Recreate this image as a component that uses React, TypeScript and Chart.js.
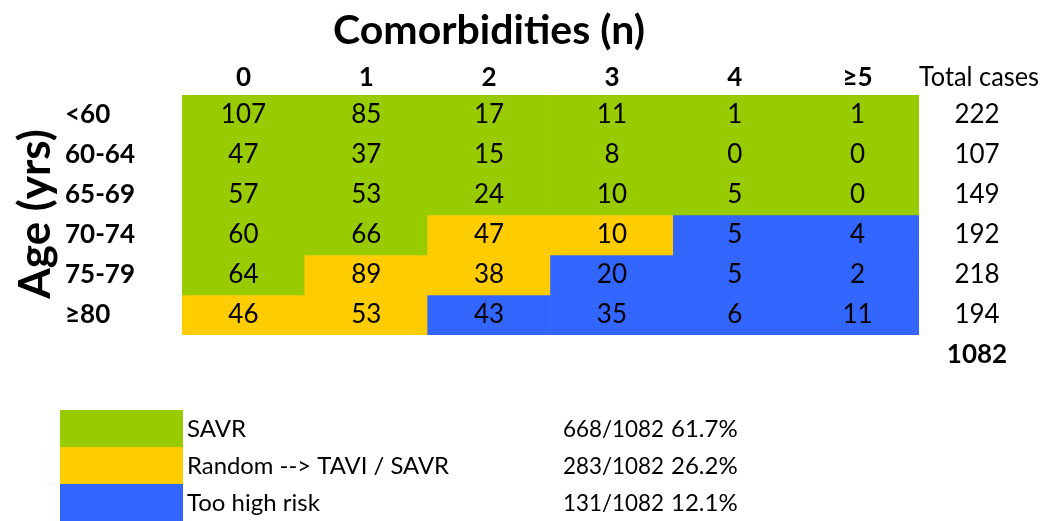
import React, { useEffect, useRef } from "react";
import { Chart, registerables } from "chart.js";

Chart.register(...registerables);

const columns = ["0", "1", "2", "3", "4", "≥5"];
const ageGroups = ["<60", "60-64", "65-69", "70-74", "75-79", "≥80"];
const counts = [
  [107, 85, 17, 11, 1, 1],
  [47, 37, 15, 8, 0, 0],
  [57, 53, 24, 10, 5, 0],
  [60, 66, 47, 10, 5, 4],
  [64, 89, 38, 20, 5, 2],
  [46, 53, 43, 35, 6, 11],
];
const groupIndex = [
  [0, 0, 0, 0, 0, 0],
  [0, 0, 0, 0, 0, 0],
  [0, 0, 0, 0, 0, 0],
  [0, 0, 1, 1, 2, 2],
  [0, 1, 1, 2, 2, 2],
  [1, 1, 2, 2, 2, 2],
];
const rowTotals = [222, 107, 149, 192, 218, 194];
const grandTotal = 1082;
const groupNames = ["SAVR", "Random --> TAVI / SAVR", "Too high risk"];
const groupCounts = [668, 283, 131];
const groupPercents = ["61.7%", "26.2%", "12.1%"];
const groupColors = ["#99CC00", "#FFCC00", "#3366FF"];

const FONT = "Lato, 'Open Sans', sans-serif";

const textPlugin = {
  id: "tableText",
  afterDraw(chart: any) {
    const ctx = chart.ctx as CanvasRenderingContext2D;
    const xs = chart.scales.x;
    const ys = chart.scales.y;
    ctx.save();
    ctx.fillStyle = "#000";
    ctx.textBaseline = "middle";

    // Title
    ctx.textAlign = "center";
    ctx.font = `bold 41px ${FONT}`;
    ctx.fillText("Comorbidities (n)", 489, 31);

    // Column headers
    ctx.font = `bold 26px ${FONT}`;
    columns.forEach((c, j) => {
      ctx.fillText(c, xs.getPixelForValue(j), 78);
    });
    ctx.font = `26px ${FONT}`;
    ctx.fillText("Total cases", 979, 78, 120);

    // Rows
    ageGroups.forEach((g, i) => {
      const y = ys.getPixelForValue(i + 0.5);
      ctx.textAlign = "left";
      ctx.font = `bold 26px ${FONT}`;
      ctx.fillText(g, 65, y);
      ctx.textAlign = "center";
      ctx.font = `26px ${FONT}`;
      counts[i].forEach((v, j) => {
        ctx.fillText(String(v), xs.getPixelForValue(j), y);
      });
      ctx.fillText(String(rowTotals[i]), 977, y);
    });
    ctx.font = `bold 26px ${FONT}`;
    ctx.fillText(String(grandTotal), 977, 355);

    // Y title
    ctx.save();
    ctx.translate(36, 214);
    ctx.rotate(-Math.PI / 2);
    ctx.font = `bold 44px ${FONT}`;
    ctx.textAlign = "center";
    ctx.fillText("Age (yrs)", 0, 0);
    ctx.restore();

    // Legend
    groupNames.forEach((n, k) => {
      const top = 410 + k * 37;
      ctx.fillStyle = groupColors[k];
      ctx.fillRect(60, top, 123, 37);
      ctx.fillStyle = "#000";
      ctx.textAlign = "left";
      ctx.font = `24px ${FONT}`;
      const cy = top + 19;
      ctx.fillText(n, 187, cy, 262);
      ctx.fillText(`${groupCounts[k]}/${grandTotal}`, 563, cy, 101);
      ctx.fillText(groupPercents[k], 671, cy, 72);
    });
    ctx.restore();
  },
};

export default function App() {
  const ref = useRef<HTMLCanvasElement>(null);
  useEffect(() => {
    if (!ref.current) return;
    const chart = new Chart(ref.current, {
      type: "bar",
      data: {
        labels: columns,
        datasets: ageGroups.map((g, i) => ({
          label: g,
          data: columns.map(() => 1),
          backgroundColor: counts[i].map((_, j) => groupColors[groupIndex[i][j]]),
          borderWidth: 0,
          barPercentage: 1,
          categoryPercentage: 1,
          stack: "cells",
        })),
      },
      options: {
        responsive: false,
        animation: false,
        layout: { padding: { left: 182, right: 127, top: 95, bottom: 186 } },
        plugins: { legend: { display: false }, tooltip: { enabled: false }, title: { display: false } },
        scales: {
          x: { display: false, stacked: true },
          y: { display: false, stacked: true, min: 0, max: 6, reverse: true },
        },
      },
      plugins: [textPlugin],
    });
    return () => chart.destroy();
  }, []);
  return (
    <div style={{ position: "fixed", left: 0, top: 0, width: 1046, height: 521, background: "#fff" }}>
      <canvas ref={ref} width={1046} height={521} style={{ width: 1046, height: 521 }} />
    </div>
  );
}
